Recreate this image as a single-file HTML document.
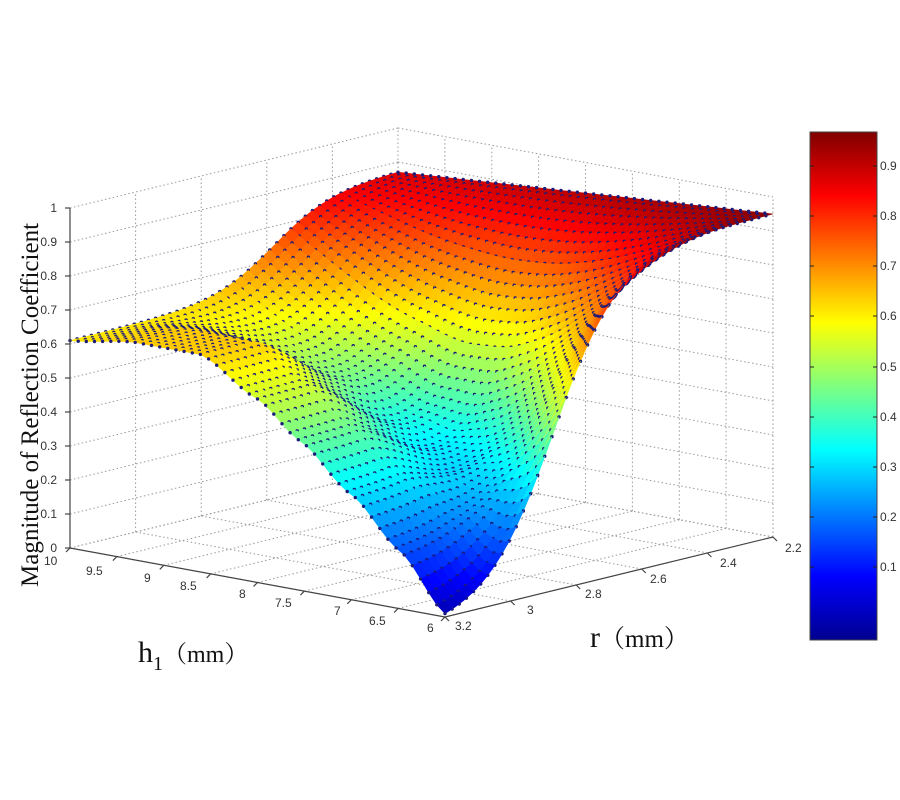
<!DOCTYPE html>
<html><head><meta charset="utf-8"><style>
html,body{margin:0;padding:0;background:#fff;width:900px;height:800px;overflow:hidden}
svg{display:block}
</style></head><body>
<svg id="s" width="900" height="800" xmlns="http://www.w3.org/2000/svg">
<defs>
<linearGradient id="jet" x1="0" y1="1" x2="0" y2="0">
<stop offset="0" stop-color="#00008f"/>
<stop offset="0.125" stop-color="#0000ff"/>
<stop offset="0.375" stop-color="#00ffff"/>
<stop offset="0.625" stop-color="#ffff00"/>
<stop offset="0.875" stop-color="#ff0000"/>
<stop offset="1" stop-color="#800000"/>
</linearGradient>
</defs>
<g id="grid" stroke="#999" stroke-width="1" stroke-dasharray="1.5,2.5" fill="none"></g>
<g id="surf"></g>
<g id="axes" stroke="#444" stroke-width="1.2" fill="none"></g>
<g font-family="Liberation Sans, sans-serif" font-size="12" fill="#333" id="lbl">
<text x="57" y="212" text-anchor="end">1</text>
<text x="57" y="246" text-anchor="end">0.9</text>
<text x="57" y="280" text-anchor="end">0.8</text>
<text x="57" y="314" text-anchor="end">0.7</text>
<text x="57" y="348" text-anchor="end">0.6</text>
<text x="57" y="382" text-anchor="end">0.5</text>
<text x="57" y="416" text-anchor="end">0.4</text>
<text x="57" y="450" text-anchor="end">0.3</text>
<text x="57" y="484" text-anchor="end">0.2</text>
<text x="57" y="518" text-anchor="end">0.1</text>
<text x="57" y="552" text-anchor="end">0</text>
<text x="44" y="565">10</text>
<text x="86" y="575">9.5</text>
<text x="144" y="582">9</text>
<text x="180" y="590">8.5</text>
<text x="239" y="598">8</text>
<text x="275" y="607">7.5</text>
<text x="334" y="615">7</text>
<text x="369" y="625">6.5</text>
<text x="427" y="632">6</text>
<text x="455" y="630">3.2</text>
<text x="527" y="614">3</text>
<text x="585" y="598">2.8</text>
<text x="650" y="583">2.6</text>
<text x="720" y="567">2.4</text>
<text x="785" y="552">2.2</text>
<text x="880" y="170">0.9</text>
<text x="880" y="220">0.8</text>
<text x="880" y="270">0.7</text>
<text x="880" y="320">0.6</text>
<text x="880" y="371">0.5</text>
<text x="880" y="421">0.4</text>
<text x="880" y="471">0.3</text>
<text x="880" y="521">0.2</text>
<text x="880" y="571">0.1</text>
</g>
<rect x="810" y="132" width="67" height="508" fill="url(#jet)" stroke="#444" stroke-width="1"/>
<g stroke="#222" stroke-width="1">
<line x1="810" y1="166" x2="814" y2="166"/><line x1="873" y1="166" x2="877" y2="166"/>
<line x1="810" y1="216" x2="814" y2="216"/><line x1="873" y1="216" x2="877" y2="216"/>
<line x1="810" y1="266" x2="814" y2="266"/><line x1="873" y1="266" x2="877" y2="266"/>
<line x1="810" y1="316" x2="814" y2="316"/><line x1="873" y1="316" x2="877" y2="316"/>
<line x1="810" y1="367" x2="814" y2="367"/><line x1="873" y1="367" x2="877" y2="367"/>
<line x1="810" y1="417" x2="814" y2="417"/><line x1="873" y1="417" x2="877" y2="417"/>
<line x1="810" y1="467" x2="814" y2="467"/><line x1="873" y1="467" x2="877" y2="467"/>
<line x1="810" y1="517" x2="814" y2="517"/><line x1="873" y1="517" x2="877" y2="517"/>
<line x1="810" y1="567" x2="814" y2="567"/><line x1="873" y1="567" x2="877" y2="567"/>
</g>
<text transform="translate(38,405) rotate(-90)" text-anchor="middle" font-family="Liberation Serif, serif" font-size="25" fill="#111">Magnitude of Reflection Coefficient</text>
<text x="138" y="662" font-family="Liberation Serif, 'Noto Serif CJK SC', serif" font-size="30" fill="#111">h<tspan font-size="20" dy="8">1</tspan><tspan dy="-8" font-size="24">（mm）</tspan></text>
<text x="590" y="647" font-family="Liberation Serif, 'Noto Serif CJK SC', serif" font-size="25" fill="#111"><tspan font-size="30">r</tspan>（mm）</text>
</svg>
<script>
(function(){
var NS="http://www.w3.org/2000/svg";
var O=[70,548],U=[375,69],V=[328,-80],ZS=340;
function P(u,v,z){return [O[0]+u*U[0]+v*V[0], O[1]+u*U[1]+v*V[1]-z*ZS];}
function el(p,t,a){var e=document.createElementNS(NS,t);for(var k in a)e.setAttribute(k,a[k]);p.appendChild(e);return e;}
var g=document.getElementById('grid'),ax=document.getElementById('axes'),sf=document.getElementById('surf');
function ln(p,a,b){el(p,'line',{x1:a[0].toFixed(1),y1:a[1].toFixed(1),x2:b[0].toFixed(1),y2:b[1].toFixed(1)});}
var i,t,a;
for(i=0;i<=10;i++){t=i/10;
 ln(g,P(0,0,t),P(0,1,t)); ln(g,P(0,1,t),P(1,1,t));}
for(i=0;i<=5;i++){t=i/5; ln(g,P(0,t,0),P(0,t,1)); ln(g,P(0,t,0),P(1,t,0));}
for(i=0;i<=8;i++){t=i/8; ln(g,P(t,1,0),P(t,1,1)); ln(g,P(t,0,0),P(t,1,0));}
ln(ax,P(0,0,0),P(0,0,1)); ln(ax,P(0,0,0),P(1,0,0)); ln(ax,P(1,0,0),P(1,1,0));
for(i=0;i<=10;i++){a=P(0,0,i/10);ln(ax,a,[a[0]-5,a[1]]);}
for(i=0;i<=8;i++){a=P(i/8,0,0);ln(ax,a,[a[0]-4,a[1]+4]);}
for(i=0;i<=5;i++){a=P(1,i/5,0);ln(ax,a,[a[0]+4,a[1]+4]);}
var zu=[[0,.61],[.17,.64],[.35,.64],[.5,.54],[.613,.44],[.75,.31],[.88,.17],[1,.01]];
function z0(u){for(var k=1;k<zu.length;k++){if(u<=zu[k][0]){var a=zu[k-1],b=zu[k],f=(u-a[0])/(b[0]-a[0]);f=f*f*(3-2*f)*0.5+f*0.5;return a[1]+(b[1]-a[1])*f;}}return zu[zu.length-1][1];}
function L(x,c,w){return 1/(1+Math.exp(-(x-c)/w));}
function Z(u,v){var c=0.62-0.29*u*u*u,w=0.09*(1-u)+0.1*u;
 var gg=(L(v,c,w)-L(0,c,w))/(L(1,c,w)-L(0,c,w));
 var z1=0.87+0.08*u; var a=z0(u); var base=a+(z1-a)*gg;
 var s=v>0.15?Math.sin(Math.PI*(v-0.15)/0.85):0;
 var hv=Math.pow(Math.max(0,s),1.5);
 var d=0.3*Math.sin(Math.PI*u);
 return Math.max(0.005,base-d*hv);}
function cl(x){return Math.max(0,Math.min(1,x));}
function jet(z){var t=cl((z+0.04)/1.005);
 var r=cl(1.5-Math.abs(4*t-3)),gg=cl(1.5-Math.abs(4*t-2)),b=cl(1.5-Math.abs(4*t-1));
 return 'rgb('+Math.round(r*255)+','+Math.round(gg*255)+','+Math.round(b*255)+')';}
var N=46,pts=[],zs=[],j;
for(i=0;i<=N;i++){pts[i]=[];zs[i]=[];for(j=0;j<=N;j++){var u=i/N,v=j/N,z=Z(u,v);zs[i][j]=z;pts[i][j]=P(u,v,z);}}
var cells=[];
for(i=0;i<N;i++)for(j=0;j<N;j++)cells.push([i,j,(i+0.5)/N-(j+0.5)/N]);
cells.sort(function(a,b){return a[2]-b[2];});
function dot(d){el(sf,'circle',{cx:d[0].toFixed(1),cy:d[1].toFixed(1),r:'1.7',fill:'#1b1b7a'});}
cells.forEach(function(c){var i=c[0],j=c[1];
 var q=[pts[i][j],pts[i+1][j],pts[i+1][j+1],pts[i][j+1]];
 var zm=(zs[i][j]+zs[i+1][j]+zs[i+1][j+1]+zs[i][j+1])/4,col=jet(zm);
 el(sf,'polygon',{points:q.map(function(p){return p[0].toFixed(1)+','+p[1].toFixed(1);}).join(' '),fill:col,stroke:col,'stroke-width':'0.6'});
 dot(q[0]);
 if(i==N-1)dot(q[1]);
 if(j==N-1)dot(q[3]);
});
})();
</script>
</body></html>
